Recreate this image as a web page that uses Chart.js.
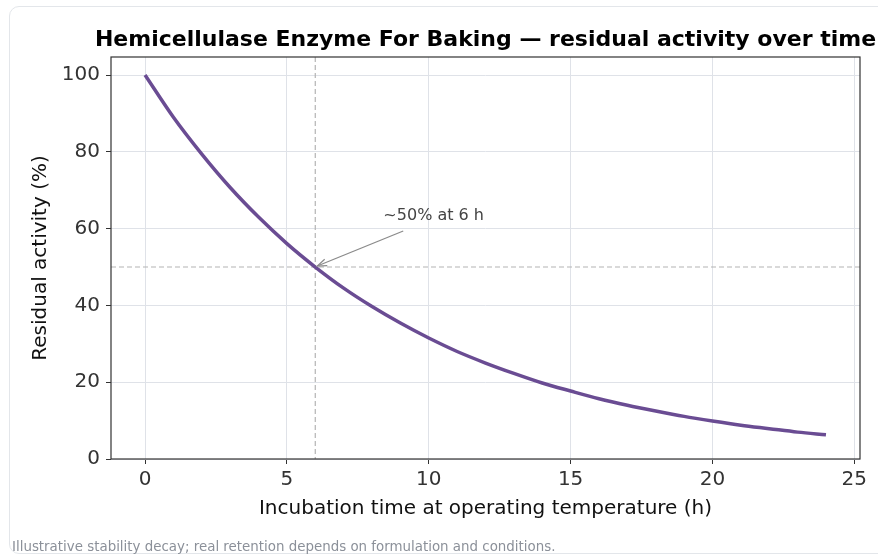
<!DOCTYPE html>
<html>
<head>
<meta charset="utf-8">
<script src="https://cdn.jsdelivr.net/npm/chart.js@4"></script>
<style>
  html, body { margin: 0; padding: 0; background: #fff; overflow: hidden; }
  body { width: 878px; height: 554px; position: relative; font-family: "DejaVu Sans", sans-serif; }
  .card { position: absolute; left: 9px; top: 6px; width: 920px; height: 548px;
          border: 1px solid #e3e6ea; border-radius: 10px; box-sizing: border-box; }
  #wrap { position: absolute; left: 0; top: 0; width: 878px; height: 554px; }
</style>
</head>
<body>
<div class="card"></div>
<div id="wrap"><canvas id="chart"></canvas></div>
<script>
// hours of incubation and residual activity
const hours = [0, 1, 2, 3, 4, 5, 6, 7, 8, 9, 10, 11, 12, 13, 14, 15, 16, 17, 18, 19, 20, 21, 22, 23, 24];
const activity = [100, 89, 79.4, 70.7, 63, 56.1, 50, 44.5, 39.7, 35.4, 31.5, 28, 25, 22.3, 19.8,
                  17.7, 15.7, 14, 12.5, 11.1, 9.9, 8.8, 7.9, 7, 6.3];
const xTicks = [0, 5, 10, 15, 20, 25];
const yTicks = [0, 20, 40, 60, 80, 100];
const halfLifeH = 6;
const halfLevel = 50;
const noteText = "~50% at 6 h";
const notePos = [8.4, 63.3];
const arrowFrom = [9.1, 59.4];

const title = "Hemicellulase Enzyme For Baking \u2014 residual activity over time";
const footnote = "Illustrative stability decay; real retention depends on formulation and conditions.";

const extras = {
  id: "extras",
  beforeDatasetsDraw(chart) {
    const { ctx, chartArea: a, scales: { x, y } } = chart;
    ctx.save();
    ctx.strokeStyle = "#b4b4b4";
    ctx.lineWidth = 1.2;
    ctx.setLineDash([5, 3]);
    const vx = x.getPixelForValue(halfLifeH);
    const hy = y.getPixelForValue(halfLevel);
    ctx.beginPath();
    ctx.moveTo(vx, a.top); ctx.lineTo(vx, a.bottom);
    ctx.moveTo(a.left, hy); ctx.lineTo(a.right, hy);
    ctx.stroke();
    ctx.restore();
  },
  afterDatasetsDraw(chart) {
    const { ctx, chartArea: a, scales: { x, y } } = chart;
    ctx.save();
    // frame
    ctx.strokeStyle = "#333";
    ctx.lineWidth = 1.2;
    ctx.strokeRect(a.left, a.top, a.right - a.left, a.bottom - a.top);

    // annotation arrow
    const x0 = x.getPixelForValue(arrowFrom[0]), y0 = y.getPixelForValue(arrowFrom[1]);
    const x1 = x.getPixelForValue(halfLifeH) + 2, y1 = y.getPixelForValue(halfLevel) - 1;
    ctx.strokeStyle = "#8a8a8a";
    ctx.lineWidth = 1.2;
    ctx.beginPath(); ctx.moveTo(x0, y0); ctx.lineTo(x1, y1); ctx.stroke();
    const ang = Math.atan2(y1 - y0, x1 - x0);
    ctx.beginPath();
    ctx.moveTo(x1 - 10 * Math.cos(ang - 0.35), y1 - 10 * Math.sin(ang - 0.35));
    ctx.lineTo(x1, y1);
    ctx.lineTo(x1 - 10 * Math.cos(ang + 0.35), y1 - 10 * Math.sin(ang + 0.35));
    ctx.stroke();

    ctx.fillStyle = "#444";
    ctx.font = "16px 'DejaVu Sans'";
    ctx.textAlign = "left";
    ctx.textBaseline = "middle";
    ctx.fillText(noteText, x.getPixelForValue(notePos[0]), y.getPixelForValue(notePos[1]));

    // title
    ctx.fillStyle = "#000";
    ctx.font = "bold 22px 'DejaVu Sans'";
    ctx.textAlign = "center";
    ctx.textBaseline = "alphabetic";
    ctx.fillText(title, (a.left + a.right) / 2, 46);

    // footnote
    ctx.fillStyle = "#8b9099";
    ctx.font = "13.4px 'DejaVu Sans'";
    ctx.textAlign = "left";
    ctx.fillText(footnote, 12, 551);
    ctx.restore();
  }
};

new Chart(document.getElementById("chart"), {
  type: "line",
  data: {
    labels: hours,
    datasets: [{
      data: hours.map((h, i) => ({ x: h, y: activity[i] })),
      borderColor: "#6a4c93",
      borderWidth: 3.5,
      pointRadius: 0,
      cubicInterpolationMode: "monotone",
      fill: false
    }]
  },
  options: {
    responsive: true,
    maintainAspectRatio: false,
    animation: false,
    layout: { padding: { left: 25, top: 57, right: 18, bottom: 29 } },
    plugins: { legend: { display: false }, tooltip: { enabled: false }, title: { display: false } },
    scales: {
      x: {
        type: "linear",
        min: -1.2,
        max: 25.2,
        afterBuildTicks: s => { s.ticks = xTicks.map(v => ({ value: v })); },
        afterFit: s => { s.height = 66; },
        grid: { color: "#dfe2e8", lineWidth: 1, tickColor: "#333", tickLength: 5, drawOnChartArea: true },
        border: { display: false },
        ticks: { color: "#333", font: { family: "DejaVu Sans", size: 20 }, padding: 4, maxRotation: 0 },
        title: { display: true, text: "Incubation time at operating temperature (h)", color: "#111",
                 font: { family: "DejaVu Sans", size: 20 }, padding: { top: 4, bottom: 4 } }
      },
      y: {
        min: 0,
        max: 104.7,
        afterBuildTicks: s => { s.ticks = yTicks.map(v => ({ value: v })); },
        afterFit: s => { s.width = 86; },
        grid: { color: "#dfe2e8", lineWidth: 1, tickColor: "#333", tickLength: 5 },
        border: { display: false },
        ticks: { color: "#333", font: { family: "DejaVu Sans", size: 20 }, padding: 6 },
        title: { display: true, text: "Residual activity (%)", color: "#111",
                 font: { family: "DejaVu Sans", size: 20 }, padding: { top: 4, bottom: 4 } }
      }
    }
  },
  plugins: [extras]
});
</script>
</body>
</html>
